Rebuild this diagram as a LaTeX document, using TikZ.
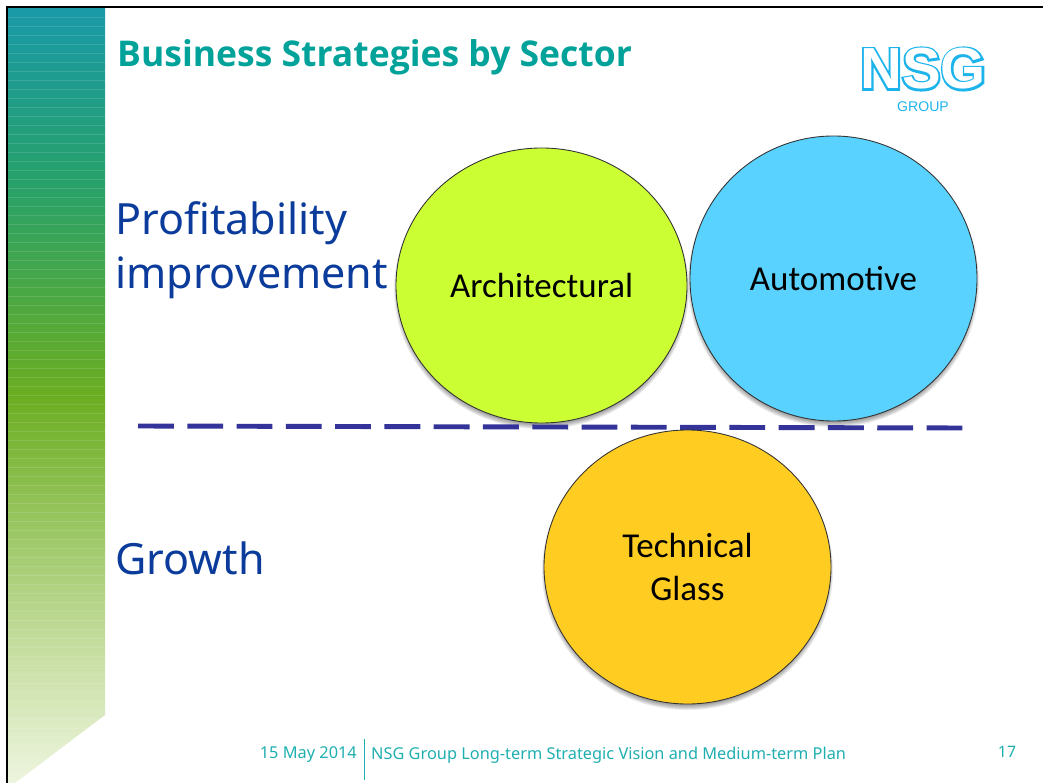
\documentclass[tikz,border=0pt]{standalone}
\usepackage{fontspec}
\setmainfont{Noto Sans}
\newfontfamily\bodyfont{Carlito}
\newfontfamily\headfont{Open Sans}
\newfontfamily\logofont[FakeBold=7]{Liberation Sans}
\newfontfamily\logotop{Liberation Sans}
\usetikzlibrary{shapes.geometric}
\definecolor{titleteal}{HTML}{00A29A}
\definecolor{labelblue}{HTML}{0B3C9B}
\definecolor{dashblue}{HTML}{333399}
\definecolor{logocyan}{HTML}{1DB4EC}
\definecolor{footteal}{HTML}{1FAFB0}
\definecolor{archgreen}{HTML}{CCFF33}
\definecolor{autoblue}{HTML}{5AD2FF}
\definecolor{techgold}{HTML}{FFCC22}
\pgfdeclareverticalshading{stripfade}{100bp}{
	rgb(0bp)=(0.93,0.96,0.87);
	rgb(25bp)=(0.93,0.96,0.87);
	rgb(33.5bp)=(0.78,0.87,0.63);
	rgb(50bp)=(0.42,0.68,0.13);
	rgb(64bp)=(0.15,0.63,0.42);
	rgb(75bp)=(0.10,0.60,0.66);
	rgb(100bp)=(0.10,0.60,0.66)}
\newcommand{\softshadow}[4]{
	\foreach \r in {0,1,...,6}
		\fill[black,opacity=.08] (#1,#2+4) ellipse[x radius=#3-4+\r,y radius=#4-4+\r];
}
\tikzset{
	sector/.style={ellipse,draw=black!80,line width=.5pt,inner sep=0pt,
		align=center,font=\bodyfont\fontsize{19.9pt}{24pt}\selectfont},
	rowlabel/.style={anchor=west,text=labelblue,font=\fontsize{24.5pt}{30.6pt}\selectfont,align=left},
	footer/.style={text=footteal,font=\fontsize{9.3pt}{12pt}\selectfont}
}
\begin{document}
\begin{tikzpicture}[x=.02cm,y=-.02cm]
	\useasboundingbox (0,0) rectangle (1043,783);

	% side strip
	\begin{scope}
		\clip (8,8)--(105,8)--(105,715)--(15,783)--(8,783)--cycle;
		\shade[shading=stripfade] (8,8) rectangle (105,783);
		\foreach \y in {17,26,...,783}
			\draw[white,opacity=.12,line width=.5pt] (8,\y)--(105,\y);
	\end{scope}

	% frame
	\coordinate (TL) at (7,7); \coordinate (TR) at (1043,7); \coordinate (BL) at (7,783);
	\draw[black,line width=1pt] (TR)--(TL)--(BL);

	\node[anchor=west,text=titleteal,font=\headfont\bfseries\fontsize{20.2pt}{24pt}\selectfont] (title) at (111,57) {Business Strategies by Sector};

	% logo
	\node[text=logocyan,font=\logofont\bfseries\fontsize{33pt}{36pt}\selectfont] (logo) at (923,69) {NSG};
	\node[text=white,font=\logotop\bfseries\fontsize{33pt}{36pt}\selectfont] (logotop) at (923,69) {NSG};
	\node[text=logocyan,font=\logotop\fontsize{8pt}{10pt}\selectfont] (group) at (923,107) {GROUP};

	\node[rowlabel] (profit) at (109,250.5) {Profitability\\improvement};
	\node[rowlabel] (growth) at (109,558) {Growth};

	% shadows first, then divider, then circles
	\softshadow{541.5}{285.5}{145.5}{137.5}
	\softshadow{833.5}{278.5}{143.5}{142.5}
	\softshadow{687.5}{567}{143.5}{137}

	\coordinate (divL) at (138,426); \coordinate (divR) at (965,428);
	\draw[dashblue,line width=2.8pt,dash pattern=on 20.4pt off 7.65pt] (divL)--(divR);

	\node[sector,fill=archgreen,minimum width=291*.02cm,minimum height=275*.02cm] (arch) at (541.5,285.5) {Architectural};
	\node[sector,fill=autoblue,minimum width=287*.02cm,minimum height=285*.02cm,text depth=-1pt] (auto) at (833.5,278.5) {Automotive};
	\node[sector,fill=techgold,minimum width=287*.02cm,minimum height=274*.02cm] (tech) at (687.5,567) {Technical\\Glass};

	\node[footer,anchor=east] (date) at (363,755) {15 May 2014};
	\coordinate (barT) at (364.5,739); \coordinate (barB) at (364.5,780);
	\draw[footteal,line width=.6pt] (barT)--(barB);
	\node[footer,anchor=west] (plan) at (365,755) {NSG Group Long-term Strategic Vision and Medium-term Plan};
	\node[footer,font=\fontsize{9pt}{11pt}\selectfont] (page) at (1007,752) {17};
\end{tikzpicture}
\end{document}
